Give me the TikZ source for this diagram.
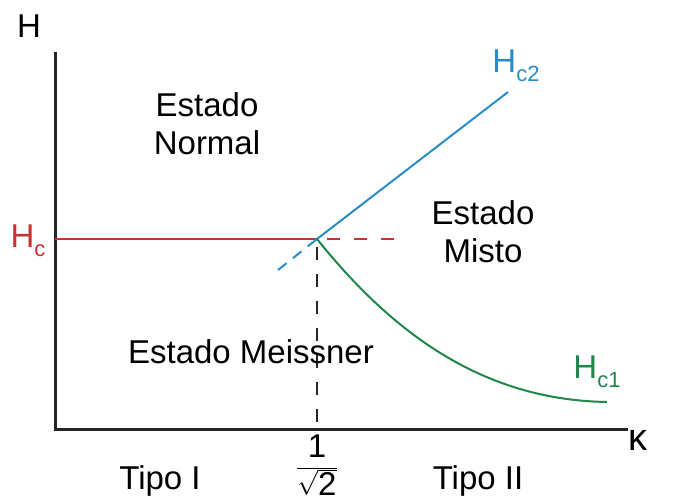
\documentclass[tikz,border=0pt]{standalone}
\usepackage{fontspec}
\setmainfont{Liberation Sans}
\definecolor{hred}{RGB}{196,52,52}
\definecolor{hblue}{RGB}{40,140,200}
\definecolor{hgreen}{RGB}{30,135,75}
\newcommand{\subsc}[1]{\raisebox{-9pt}{\fontsize{22}{24}\selectfont #1}}
\begin{document}
\begin{tikzpicture}[x=1pt,y=-1pt,
  axis/.style={line width=3pt,black!85},
  lbl/.style={font=\fontsize{33}{38}\selectfont,inner sep=0pt,align=center},
  dsh/.style={dash pattern=on 13pt off 14pt}]
\useasboundingbox (0,0) rectangle (676,503);
\coordinate (O) at (55,429);
\coordinate (Ytop) at (55,52);
\coordinate (Xend) at (628,429);
\coordinate (Hc0) at (55,239);
\coordinate (J) at (317,239);
\coordinate (Rd) at (400,239);
\coordinate (Bd) at (278,270);
\coordinate (B2) at (508,92);
\coordinate (G1) at (607,402);
\coordinate (Vb) at (317,429);
\draw[axis] (Ytop) -- (O) -- (Xend);
\draw[hred,line width=2pt] (Hc0) -- (J);
\draw[hred,line width=2pt,dsh,dash phase=-10pt] (J) -- (Rd);
\draw[hblue,line width=2pt] (J) -- (B2);
\draw[hblue,line width=2pt,dash pattern=on 11pt off 8pt] (Bd) -- (J);
\draw[hgreen,line width=2pt] (J) .. controls (390,330) and (480,400) .. (G1);
\draw[black!85,line width=2pt,dsh,dash phase=-8pt] (J) -- (Vb);
\node[lbl] (H) at (29,26) {H};
\node[lbl] (k) at (638,440) {\fontsize{38}{40}\selectfont κ};
\node[lbl,text=hred] (Hc) at (28,241) {H\subsc{c}};
\node[lbl,text=hblue] (Hc2) at (516,66) {H\subsc{c2}};
\node[lbl,text=hgreen] (Hc1) at (597,372) {H\subsc{c1}};
\node[lbl] (N) at (207,124) {Estado\\Normal};
\node[lbl] (Mi) at (483,232) {Estado\\Misto};
\node[lbl] (Me) at (251,352) {Estado Meissner};
\node[lbl] (T1) at (160,481) {Tipo I};
\node[lbl] (T2) at (478,481) {Tipo II};
\node[lbl] (f) at (317,465) {$\displaystyle\frac{\mbox{1}}{\sqrt{\mbox{2}}}$};
\end{tikzpicture}
\end{document}
